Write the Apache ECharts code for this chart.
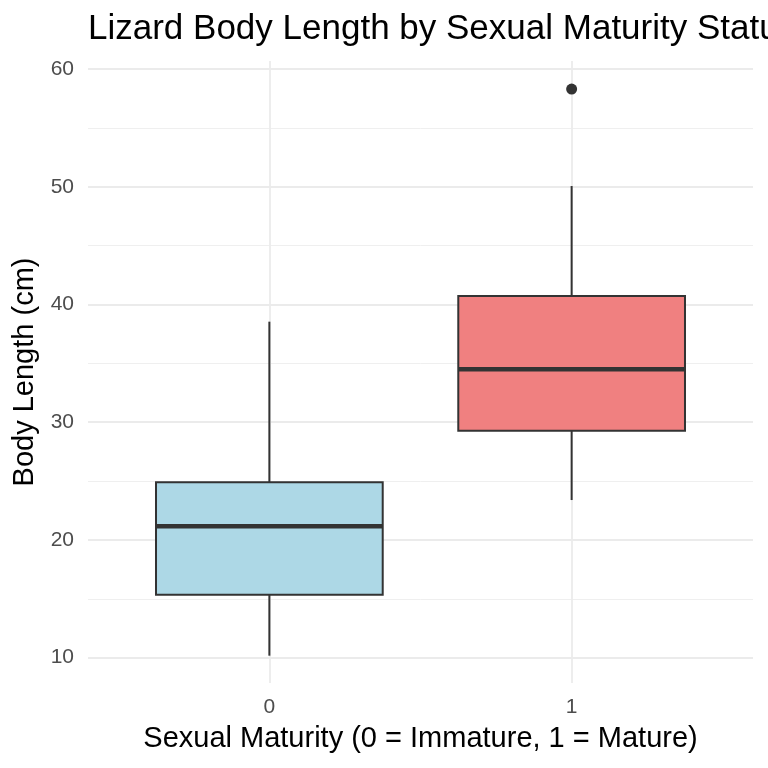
<!DOCTYPE html>
<html>
<head>
<meta charset="utf-8">
<script src="https://cdn.jsdelivr.net/npm/echarts@6/dist/echarts.min.js"></script>
<style>
  html, body { margin: 0; padding: 0; background: #fff; }
  #chart { width: 768px; height: 768px; }
</style>
</head>
<body>
<div id="chart"></div>
<script>
// groups on the x axis (0 = immature, 1 = mature)
var groups = [0, 1];
var groupLabels = ['0', '1'];
// box stats: [min, Q1, median, Q3, max]
var immatureStats = [10.17, 15.35, 21.16, 24.9, 38.54];
var matureStats = [23.39, 29.28, 34.49, 40.72, 50.06];
// outliers: [group, value]
var outliers = [[1, 58.3]];
// y ticks
var majorTicks = [10, 20, 30, 40, 50, 60];
var minorTicks = [15, 25, 35, 45, 55];

var boxColors = ['#ADD8E6', '#F08080'];
var FONT = 'Liberation Sans';

var chart = echarts.init(document.getElementById('chart'));

// rows for the custom box series: [x, min, Q1, median, Q3, max]
var boxRows = [immatureStats, matureStats].map(function (s, i) {
    return [groups[i]].concat(s);
});

// ggplot-like box: no whisker caps, thick median
function renderBox(params, api) {
    var x = api.value(0);
    var lo = api.coord([x, api.value(1)]);
    var q1 = api.coord([x, api.value(2)]);
    var med = api.coord([x, api.value(3)]);
    var q3 = api.coord([x, api.value(4)]);
    var hi = api.coord([x, api.value(5)]);
    var halfW = api.size([0.75, 0])[0] / 2;
    var stroke = '#333333';
    return {
        type: 'group',
        children: [{
            type: 'line',
            shape: { x1: lo[0], y1: lo[1], x2: q1[0], y2: q1[1] },
            style: { stroke: stroke, lineWidth: 2 }
        }, {
            type: 'line',
            shape: { x1: q3[0], y1: q3[1], x2: hi[0], y2: hi[1] },
            style: { stroke: stroke, lineWidth: 2 }
        }, {
            type: 'rect',
            shape: { x: q3[0] - halfW, y: q3[1], width: halfW * 2, height: q1[1] - q3[1] },
            style: { fill: boxColors[params.dataIndex], stroke: stroke, lineWidth: 2 }
        }, {
            type: 'line',
            shape: { x1: med[0] - halfW, y1: med[1], x2: med[0] + halfW, y2: med[1] },
            style: { stroke: stroke, lineWidth: 4.5 }
        }]
    };
}

var option = {
    backgroundColor: '#ffffff',
    animation: false,
    title: {
        text: 'Lizard Body Length by Sexual Maturity Status',
        left: 88,
        top: 12,
        padding: 0,
        textStyle: { fontFamily: FONT, fontSize: 35, fontWeight: 'normal', color: '#000' }
    },
    grid: { left: 88, right: 15, top: 61, bottom: 85 },
    xAxis: {
        type: 'value',
        min: -0.6,
        max: 1.6,
        name: 'Sexual Maturity (0 = Immature, 1 = Mature)',
        nameLocation: 'middle',
        nameGap: 41,
        nameTextStyle: { fontFamily: FONT, fontSize: 29, color: '#000' },
        axisLine: { show: false },
        axisTick: { show: false, customValues: groups },
        axisLabel: {
            customValues: groups,
            margin: 14,
            fontFamily: FONT,
            fontSize: 21,
            color: '#4D4D4D',
            formatter: function (v) { return groupLabels[groups.indexOf(v)]; }
        },
        splitLine: { show: true, lineStyle: { color: '#EBEBEB', width: 1.8 } }
    },
    yAxis: [{
        type: 'value',
        min: 7.85,
        max: 60.68,
        name: 'Body Length (cm)',
        nameLocation: 'middle',
        nameGap: 45,
        nameTextStyle: { fontFamily: FONT, fontSize: 29, color: '#000' },
        axisLine: { show: false },
        axisTick: { show: false, customValues: majorTicks },
        axisLabel: {
            customValues: majorTicks,
            margin: 14,
            fontFamily: FONT,
            fontSize: 21,
            color: '#4D4D4D'
        },
        splitLine: { show: true, lineStyle: { color: '#EBEBEB', width: 1.8 } }
    }, {
        // minor grid only
        type: 'value',
        position: 'left',
        min: 7.85,
        max: 60.68,
        axisLine: { show: false },
        axisTick: { show: false, customValues: minorTicks },
        axisLabel: { show: false },
        splitLine: { show: true, lineStyle: { color: '#EFEFEF', width: 1 } }
    }],
    series: [{
        type: 'custom',
        renderItem: renderBox,
        encode: { x: 0, y: [1, 2, 3, 4, 5] },
        data: boxRows,
        z: 3
    }, {
        type: 'scatter',
        data: outliers,
        symbolSize: 11,
        itemStyle: { color: '#333333', opacity: 1 },
        z: 5
    }]
};

chart.setOption(option);
</script>
</body>
</html>
